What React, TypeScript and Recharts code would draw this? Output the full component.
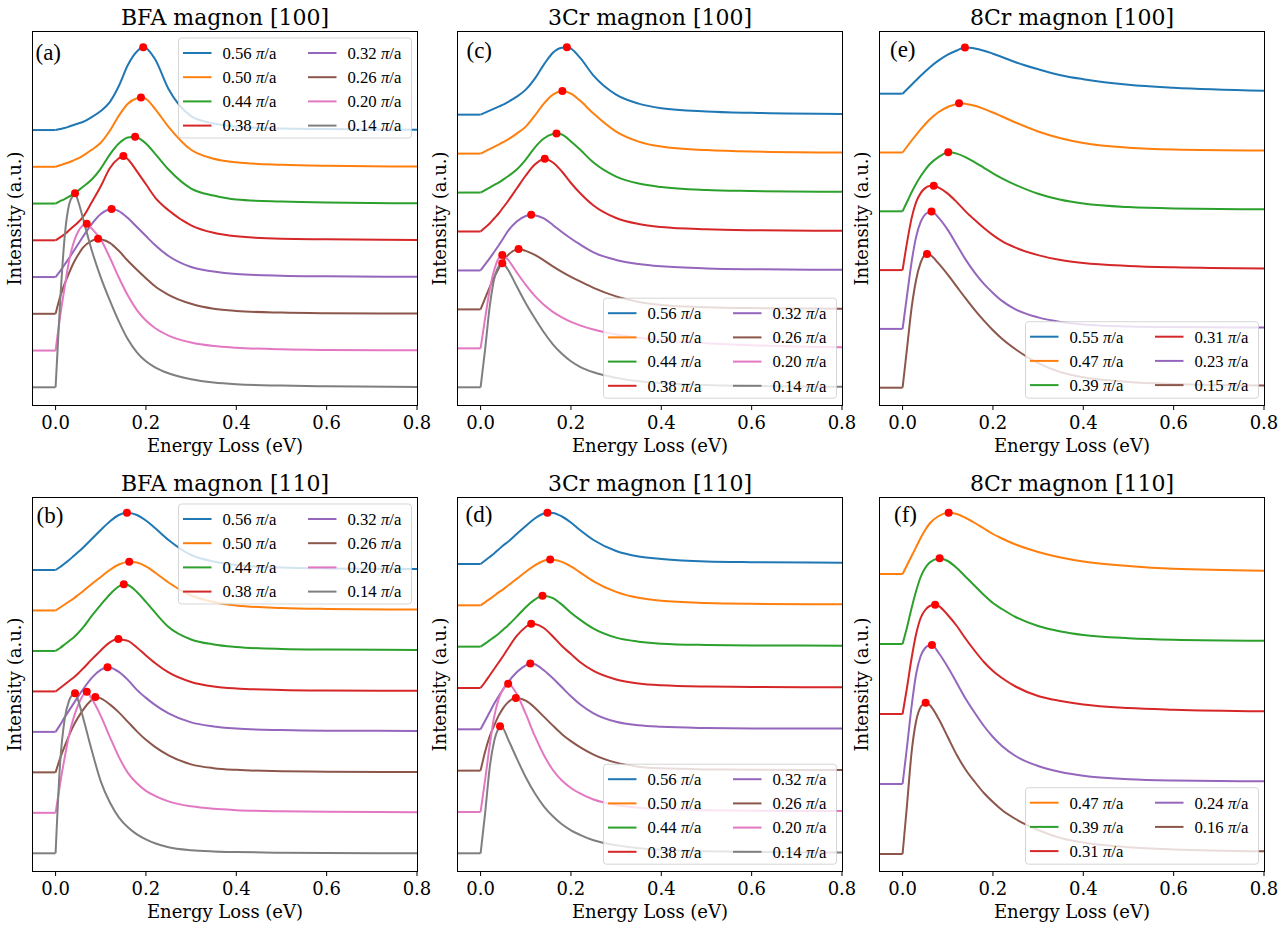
import React from "react";
import { ComposedChart, Line, XAxis, YAxis } from "recharts";

// shared energy-loss grid (eV); the flat stretch below 0 eV is drawn as its own segment
const ENERGY = [0, 0.01, 0.02, 0.03, 0.04, 0.05, 0.06, 0.08, 0.1, 0.12, 0.14, 0.16, 0.18, 0.2, 0.22, 0.25, 0.3, 0.35, 0.4, 0.5, 0.6, 0.8];
const E_MIN = -0.05;
const E_MAX = 0.8;
const E_TICKS = [0, 0.2, 0.4, 0.6, 0.8];
const I_MAX = 373;

const TAB10 = ["#1f77b4", "#ff7f0e", "#2ca02c", "#d62728", "#9467bd", "#8c564b", "#e377c2", "#7f7f7f"];

// ---- BFA magnon [100] ----
const bfa100Q = ["0.56", "0.50", "0.44", "0.38", "0.32", "0.26", "0.20", "0.14"];
const bfa100PeakE = [0.194, 0.189, 0.176, 0.15, 0.124, 0.094, 0.069, 0.043];
const bfa100PeakI = [82.7, 69.3, 66.7, 84.3, 68, 75, 126.7, 194];
const bfa100 = [
  [0, 1, 2, 3.5, 5, 6.5, 8, 13, 19, 28, 44, 65, 78.5, 82, 71, 41, 14, 6.5, 3.5, 1.5, 1, 0.3],
  [0, 1.5, 3, 4.5, 6.5, 8.5, 11, 17, 24, 36, 51, 63, 68.5, 68, 58, 40, 17, 8, 4.5, 2, 1, 0.3],
  [0, 2.5, 4.5, 7, 9.5, 13, 16.5, 24, 35, 49, 60, 66, 66.3, 60, 50, 34, 15, 8, 4, 2, 1, 0.3],
  [0, 3, 6, 10, 14, 18, 23, 38, 54, 72, 82, 81, 69, 56, 43, 30, 15, 7.5, 4, 1.5, 1, 0.3],
  [0, 6, 12.5, 19, 26, 33, 40, 53, 63, 67.8, 66, 59, 50, 41, 32, 21, 10, 5.5, 3, 1.3, 0.7, 0.2],
  [0, 17, 30, 41, 51, 59, 66, 73, 74.5, 71, 63, 53, 44, 35.5, 27.5, 19, 10, 5, 2.8, 1.2, 0.6, 0.2],
  [0, 34, 63, 90, 108, 119, 125, 122, 111, 93, 73, 55, 40.5, 30, 22.5, 15, 8, 4.5, 2.8, 1.2, 0.6, 0.2],
  [0, 85, 150, 183, 192.5, 186, 170, 137, 110, 87, 66, 48, 35, 26, 20, 14, 8, 4.7, 3, 1.7, 1, 0.3],
];

// ---- 3Cr magnon [100] ----
const cr3100Q = ["0.56", "0.50", "0.44", "0.38", "0.32", "0.26", "0.20", "0.14"];
const cr3100PeakE = [0.191, 0.181, 0.168, 0.142, 0.112, 0.084, 0.048, 0.048];
const cr3100PeakI = [67.3, 62.7, 59, 72.7, 55.7, 60.3, 93.3, 124];
const cr3100 = [
  [0, 2, 4, 6, 8, 10, 12.5, 18, 25, 36, 50, 62, 67, 66, 57, 39, 20, 11, 6.5, 3.2, 1.8, 0.7],
  [0, 2.3, 4.5, 6.8, 9, 11.5, 14, 20, 27, 38, 50, 59, 62.6, 60, 53, 40, 22, 12, 7, 3.5, 2, 1],
  [0, 2.5, 5, 7.5, 10, 13, 16, 23, 33, 45, 54, 58.5, 58, 51, 43, 30, 16, 9, 5.5, 2.5, 1.5, 0.7],
  [0, 4, 8, 13, 18, 24, 30, 43, 56, 67, 72.5, 69, 60, 48.5, 38.5, 26, 13.5, 7.5, 4.5, 2.2, 1.3, 0.7],
  [0, 6, 12, 18.5, 25, 32, 39, 49, 54.5, 55.3, 52, 45.5, 38.5, 32, 26, 18, 10.5, 6.5, 4.2, 2, 1.2, 0.7],
  [0, 11, 22, 32, 41, 48.5, 54, 60, 58.5, 54.5, 49, 43, 37.5, 32.5, 28, 21.5, 13, 7.5, 4.5, 2.2, 1.3, 0.7],
  [0, 30, 58, 78, 90, 93, 89, 76, 63.5, 52.5, 43.5, 36.5, 31, 26.5, 23, 18.8, 13.8, 10.5, 8.2, 5.2, 3.2, 1],
  [0, 38, 80, 108, 121, 123.8, 118, 101, 84, 69, 55, 43, 33.5, 26, 20.5, 15, 9.5, 6, 4.2, 2.3, 1.4, 0.5],
];

// ---- 8Cr magnon [100] ----
const cr8100Q = ["0.55", "0.47", "0.39", "0.31", "0.23", "0.15"];
const cr8100PeakE = [0.138, 0.125, 0.101, 0.069, 0.064, 0.054];
const cr8100PeakI = [46.3, 49.3, 59, 84.3, 117.3, 133.7];
const cr8100 = [
  [0, 4.5, 9, 13.5, 18, 22.3, 26.3, 33.3, 39, 43.2, 46.2, 45.3, 43, 40, 36.7, 31.5, 24.5, 18.5, 14.5, 9, 6, 3],
  [0, 6, 12, 17.7, 23.2, 28.3, 33, 40.5, 45.5, 48.5, 48.6, 46.7, 43.6, 40, 36, 30, 21, 14.2, 9.5, 4.8, 3, 2],
  [0, 9.5, 19, 27.5, 35, 41.5, 47, 54.5, 58.9, 57.7, 54, 49, 43.5, 38, 33, 26.5, 17.5, 11.5, 7.8, 4.2, 2.8, 2],
  [0, 28, 52, 68, 77, 82, 84, 82.5, 76.5, 68, 58.5, 50, 42, 35, 29, 22.5, 15, 10, 7, 4.2, 2.8, 1.7],
  [0, 34, 67, 92, 107, 114.5, 117, 111, 99, 84, 69, 56, 45, 36, 28, 19.5, 11.5, 7, 4.5, 2.5, 1.8, 1.3],
  [0, 40, 80, 108, 125, 133, 133, 124, 113, 101, 89, 77.5, 67, 57.5, 49, 38.5, 24.5, 15.5, 10.5, 5.8, 3.8, 2.3],
];

// ---- BFA magnon [110] ----
const bfa110Q = ["0.56", "0.50", "0.44", "0.38", "0.32", "0.26", "0.20", "0.14"];
const bfa110PeakE = [0.158, 0.163, 0.151, 0.139, 0.115, 0.088, 0.069, 0.043];
const bfa110PeakI = [57.3, 48.7, 66.7, 52.3, 64.7, 75.3, 121, 160];
const bfa110 = [
  [0, 3, 6.5, 10, 14, 18, 22, 31, 40, 48.5, 55, 57.2, 55, 49.5, 42, 30, 15, 8.5, 5, 2.5, 1.6, 1],
  [0, 3, 6, 9, 12, 15.5, 19, 26.5, 33.5, 40.5, 46, 48.6, 48, 44, 38, 28, 15, 8.5, 5, 2.5, 1.6, 1],
  [0, 3, 6.5, 10, 13.5, 18, 23, 35, 46, 56.5, 64.5, 66, 59, 49, 38.5, 24, 11.5, 6.5, 4, 2, 1.4, 1],
  [0, 3.5, 7, 10.5, 14, 18, 22.5, 32, 41, 49, 52.2, 50.5, 44, 36, 28.5, 19, 9.5, 5, 3, 1.5, 1, 0.7],
  [0, 7, 14.5, 21.5, 28.5, 35.5, 42, 54, 62, 64.5, 60, 52, 42, 34, 27, 18.5, 9.5, 5.5, 3.3, 1.8, 1.2, 1],
  [0, 14, 26, 37, 47, 55, 62, 72.5, 74, 68, 60, 50.5, 41, 32.5, 25.5, 17, 8, 4.2, 2.5, 1.2, 0.7, 0.3],
  [0, 29, 55, 78, 95, 108, 117, 114, 97, 76, 56, 40, 29.5, 22, 17, 11.5, 6.5, 4, 2.7, 1.5, 1, 0.7],
  [0, 90, 134, 153, 159.5, 153, 137, 103, 72, 51, 36, 26, 19, 14, 10, 6, 3, 1.8, 1.2, 0.6, 0.3, 0],
];

// ---- 3Cr magnon [110] ----
const cr3110Q = ["0.56", "0.50", "0.44", "0.38", "0.32", "0.26", "0.20", "0.14"];
const cr3110PeakE = [0.148, 0.154, 0.137, 0.112, 0.11, 0.078, 0.061, 0.043];
const cr3110PeakI = [51.3, 45.7, 51, 64.3, 65.7, 72.7, 128.3, 127];
const cr3110 = [
  [0, 3.5, 7, 10.5, 14.5, 18.5, 22, 30, 38, 45.5, 50.5, 51, 47.5, 41.5, 34, 24, 13, 7.5, 5, 2.5, 1.8, 1.3],
  [0, 3, 6.2, 9.5, 13, 16, 19.5, 26.5, 33.5, 40, 44.5, 45.5, 43.5, 39, 33, 24, 13.5, 7.5, 4.5, 2.3, 1.5, 1],
  [0, 3, 6.3, 9.5, 13, 17, 21, 30, 39.5, 47, 50.9, 48.5, 42, 34, 27, 18, 9, 5, 3, 1.7, 1.2, 1],
  [0, 6, 12.5, 19, 25.5, 32, 39, 52, 61, 64, 60, 51.5, 42, 34, 26, 17, 8.5, 4.5, 2.7, 1.4, 1, 0.7],
  [0, 8.5, 17, 25.5, 33, 40, 46.5, 57, 64, 65, 59, 51, 42, 33, 25, 16, 7.5, 4, 2.5, 1.3, 0.9, 0.7],
  [0, 19, 34, 45, 55, 62.5, 68, 72.6, 70, 63, 54, 45, 36.5, 29.5, 23.5, 16, 8, 4, 2.3, 1.2, 0.9, 0.7],
  [0, 32, 66, 95, 113, 123, 128, 118, 98, 76, 57, 42, 31.5, 24, 18.5, 12.5, 7, 4.3, 2.9, 1.7, 1.3, 1],
  [0, 40, 85, 112, 125, 125, 115, 95, 76, 60, 47, 37, 29, 23, 18.5, 13, 8, 5, 3.5, 2, 1.3, 0.7],
];

// ---- 8Cr magnon [110] ----
const cr8110Q = ["0.47", "0.39", "0.31", "0.24", "0.16"];
const cr8110PeakE = [0.102, 0.082, 0.072, 0.065, 0.051];
const cr8110PeakI = [61.3, 85.7, 109.3, 139, 151.3];
const cr8110 = [
  [0, 9, 18, 27, 36, 44, 50.5, 58, 61.2, 60, 56, 51, 45.5, 40, 35.5, 29.5, 22, 16.5, 12.5, 8, 5.2, 3.3],
  [0, 17, 36, 53, 67, 76, 81.5, 85.6, 83, 76, 67, 58, 49, 41, 35, 27, 18, 12.5, 9, 5.8, 4.3, 3.3],
  [0, 27, 56, 80, 96, 104, 108, 108, 99, 88, 75, 63, 52, 43, 36, 27.5, 18, 13, 9.5, 6, 4.3, 2.7],
  [0, 38, 78, 110, 128, 136, 138.8, 131, 117, 101, 85, 71, 58, 47, 38, 28, 18, 12, 8.3, 4.8, 3.5, 2.7],
  [0, 50, 102, 133, 147, 151, 149, 135, 117, 99, 84, 72, 61, 52, 44, 35, 24, 16, 11.5, 6.8, 4.5, 2.7],
];

// page layout of the six axes
const COL_LEFT = [33, 458, 880];
const ROW_TOP = [32, 498];
const PLOT_W = 384;
const PLOT_H = 373;
const M_LEFT = 32;
const M_TOP = 32;
const M_RIGHT = 20;
const X_AXIS_H = 45;
const M_BOTTOM = 5;

const SERIF = "'DejaVu Serif', serif";
const TIMES = "'Liberation Serif', 'Times New Roman', serif";

type PanelSpec = {
  title: string;
  tag: string;
  col: number;
  row: number;
  q: string[];
  peakE: number[];
  peakI: number[];
  spectra: number[][];
  offset0: number;
  offsetStep: number;
  color0: number;
  legend: "upper" | "lower";
  tagDx: number;
  tagDy: number;
};

const PANELS: PanelSpec[] = [
  { title: "BFA magnon [100]", tag: "(a)", col: 0, row: 0, q: bfa100Q, peakE: bfa100PeakE, peakI: bfa100PeakI, spectra: bfa100, offset0: 17.7, offsetStep: 36.75, color0: 0, legend: "upper", tagDx: 2.5, tagDy: 28 },
  { title: "3Cr magnon [100]", tag: "(c)", col: 1, row: 0, q: cr3100Q, peakE: cr3100PeakE, peakI: cr3100PeakI, spectra: cr3100, offset0: 17.7, offsetStep: 38.95, color0: 0, legend: "lower", tagDx: 8.5, tagDy: 26 },
  { title: "8Cr magnon [100]", tag: "(e)", col: 2, row: 0, q: cr8100Q, peakE: cr8100PeakE, peakI: cr8100PeakI, spectra: cr8100, offset0: 17.3, offsetStep: 58.8, color0: 0, legend: "lower", tagDx: 10, tagDy: 25 },
  { title: "BFA magnon [110]", tag: "(b)", col: 0, row: 1, q: bfa110Q, peakE: bfa110PeakE, peakI: bfa110PeakI, spectra: bfa110, offset0: 17.7, offsetStep: 40.47, color0: 0, legend: "upper", tagDx: 3.5, tagDy: 25 },
  { title: "3Cr magnon [110]", tag: "(d)", col: 1, row: 1, q: cr3110Q, peakE: cr3110PeakE, peakI: cr3110PeakI, spectra: cr3110, offset0: 17.7, offsetStep: 41.33, color0: 0, legend: "lower", tagDx: 7.5, tagDy: 23.5 },
  { title: "8Cr magnon [110]", tag: "(f)", col: 2, row: 1, q: cr8110Q, peakE: cr8110PeakE, peakI: cr8110PeakI, spectra: cr8110, offset0: 17, offsetStep: 70, color0: 1, legend: "lower", tagDx: 14, tagDy: 24 },
];

function buildSeries(p: PanelSpec) {
  const n = p.spectra.length;
  return p.spectra.map((vals, i) => {
    const base = p.offset0 + (n - 1 - i) * p.offsetStep;
    const pe = p.peakE[i];
    const peak = { e: pe, v: base + p.peakI[i] };
    const pts = ENERGY.map((e, k) => ({ e, v: base + vals[k] })).filter((d) => Math.abs(d.e - pe) > 1e-6);
    pts.push(peak);
    pts.sort((a, b) => a.e - b.e);
    return {
      color: TAB10[p.color0 + i],
      flat: [{ e: E_MIN, v: base }, { e: 0, v: base }],
      pts,
      peak,
    };
  });
}

function Panel({ p }: { p: PanelSpec }) {
  const series = buildSeries(p);
  const peaks = series.map((s) => s.peak);
  const left = COL_LEFT[p.col] - M_LEFT;
  const top = ROW_TOP[p.row] - M_TOP;
  return (
    <div style={{ position: "absolute", left, top }}>
      <ComposedChart
        width={M_LEFT + PLOT_W + M_RIGHT}
        height={M_TOP + PLOT_H + X_AXIS_H + M_BOTTOM}
        margin={{ top: M_TOP, right: M_RIGHT, bottom: M_BOTTOM, left: M_LEFT }}
      >
        <XAxis
          type="number"
          dataKey="e"
          domain={[E_MIN, E_MAX]}
          ticks={E_TICKS}
          interval={0}
          allowDataOverflow
          height={X_AXIS_H}
          axisLine={false}
          tickLine={{ stroke: "#000", strokeWidth: 1 }}
          tickSize={5}
          tickMargin={6}
          tickFormatter={(v: number) => v.toFixed(1)}
          tick={{ fill: "#000", fontSize: 18, fontFamily: SERIF }}
        />
        <YAxis type="number" domain={[0, I_MAX]} hide allowDataOverflow />
        {series.map((s, i) => (
          <Line
            key={`f${i}`}
            data={s.flat}
            dataKey="v"
            type="linear"
            stroke={s.color}
            strokeWidth={2}
            dot={false}
            activeDot={false}
            isAnimationActive={false}
          />
        ))}
        {series.map((s, i) => (
          <Line
            key={`c${i}`}
            data={s.pts}
            dataKey="v"
            type="monotone"
            stroke={s.color}
            strokeWidth={2}
            dot={false}
            activeDot={false}
            isAnimationActive={false}
          />
        ))}
        <Line
          data={peaks}
          dataKey="v"
          stroke="none"
          dot={{ r: 4, fill: "#ff0000", stroke: "none", strokeWidth: 0 }}
          activeDot={false}
          isAnimationActive={false}
        />
      </ComposedChart>
    </div>
  );
}

// frame, titles, axis labels, panel tags and legends
function Decorations({ p }: { p: PanelSpec }) {
  const x0 = COL_LEFT[p.col];
  const y0 = ROW_TOP[p.row];
  const cx = x0 + PLOT_W / 2;
  const cy = y0 + PLOT_H / 2;
  const n = p.q.length;
  const rows = Math.ceil(n / 2);
  const boxW = 233;
  const boxH = rows === 4 ? 100 : 76.5;
  const boxX = x0 + PLOT_W - 5.5 - boxW;
  const boxY = p.legend === "upper" ? y0 + 6 : y0 + PLOT_H - 6.8 - boxH;
  const yl = x0 - 12;
  return (
    <g>
      <rect x={x0 - 0.5} y={y0 - 0.5} width={PLOT_W + 1} height={PLOT_H + 1} fill="none" stroke="#000" strokeWidth={1} />
      <text x={cx} y={y0 - 7} textAnchor="middle" fontFamily={SERIF} fontSize={22} fill="#000">
        {p.title}
      </text>
      <text x={cx} y={y0 + PLOT_H + 46.7} textAnchor="middle" fontFamily={SERIF} fontSize={18} fill="#000">
        Energy Loss (eV)
      </text>
      <text
        x={yl}
        y={cy}
        transform={`rotate(-90 ${yl} ${cy})`}
        textAnchor="middle"
        fontFamily={SERIF}
        fontSize={18}
        fill="#000"
      >
        Intensity (a.u.)
      </text>
      <text x={x0 + p.tagDx} y={y0 + p.tagDy} fontFamily={TIMES} fontSize={23} fill="#000">
        {p.tag}
      </text>
      <rect
        x={boxX}
        y={boxY}
        width={boxW}
        height={boxH}
        rx={3}
        fill="#ffffff"
        fillOpacity={0.8}
        stroke="#cccccc"
        strokeOpacity={0.8}
        strokeWidth={1}
      />
      {p.q.map((q, i) => {
        const c = i < rows ? 0 : 1;
        const r = i < rows ? i : i - rows;
        const lx = boxX + 4.5 + c * 125;
        const ly = boxY + 15 + r * 24.2;
        return (
          <g key={q}>
            <line x1={lx} x2={lx + 28.5} y1={ly} y2={ly} stroke={TAB10[p.color0 + i]} strokeWidth={2} />
            <text x={lx + 39.5} y={ly + 5.8} fontFamily={TIMES} fontSize={16.7} fill="#000">
              {q}
              <tspan fontStyle="italic"> π</tspan>
              /a
            </text>
          </g>
        );
      })}
    </g>
  );
}

export default function App() {
  return (
    <div style={{ position: "absolute", left: 0, top: 0, width: 1286, height: 931, background: "#fff" }}>
      {PANELS.map((p) => (
        <Panel key={p.tag} p={p} />
      ))}
      <svg
        width={1286}
        height={931}
        style={{ position: "absolute", left: 0, top: 0, pointerEvents: "none" }}
      >
        {PANELS.map((p) => (
          <Decorations key={p.tag} p={p} />
        ))}
      </svg>
    </div>
  );
}
